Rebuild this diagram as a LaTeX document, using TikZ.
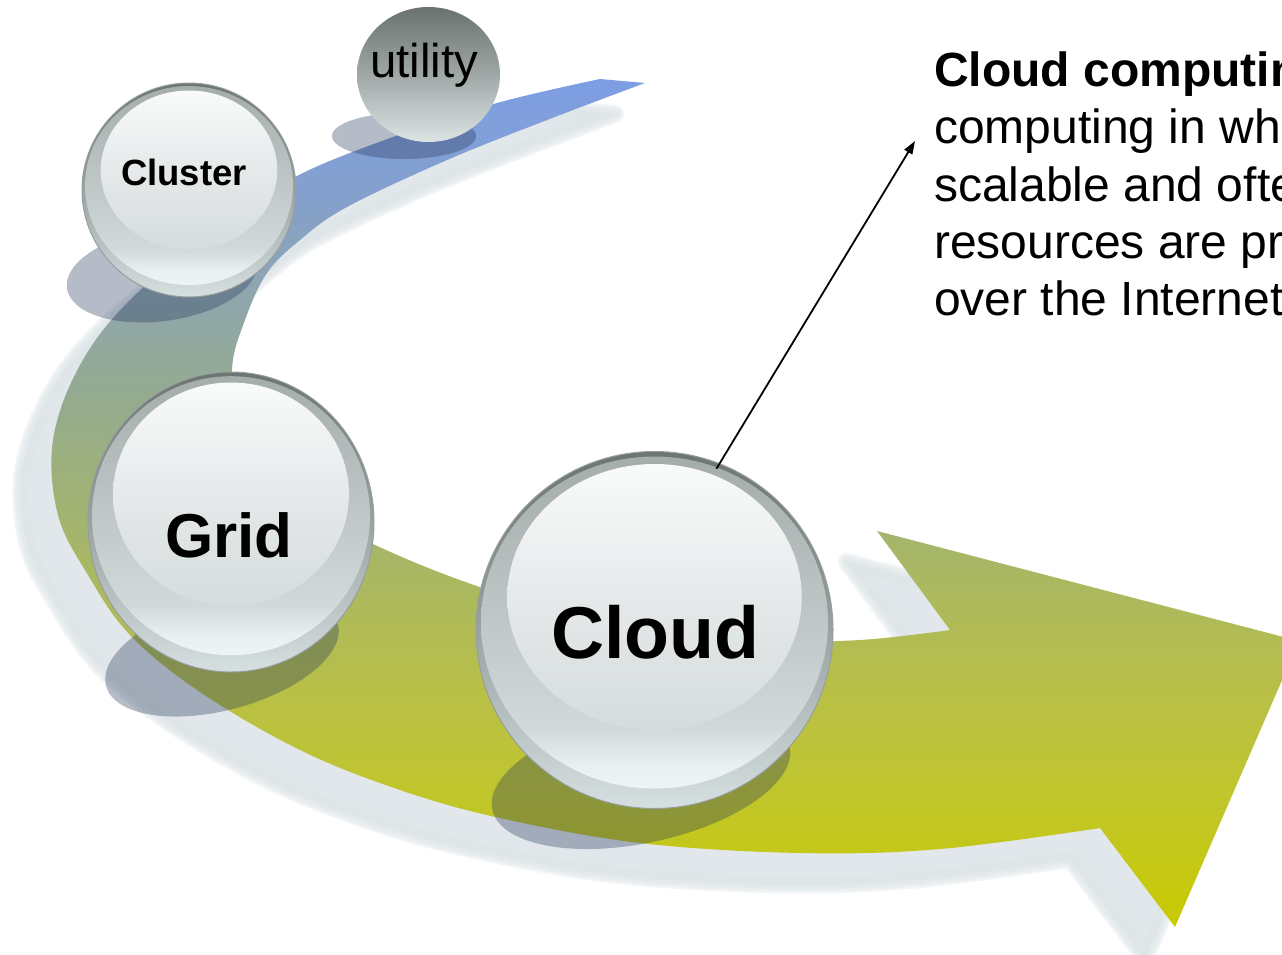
\documentclass[tikz,border=0pt]{standalone}
\usepackage{fontspec}
\setmainfont{Liberation Sans}
\usetikzlibrary{arrows.meta}

% band colours, top (blue) to bottom (yellow-green)
\definecolor{bandA}{RGB}{126,158,228}
\definecolor{bandB}{RGB}{132,160,204}
\definecolor{bandC}{RGB}{144,166,172}
\definecolor{bandD}{RGB}{148,171,142}
\definecolor{bandE}{RGB}{168,183,101}
\definecolor{bandF}{RGB}{185,192,69}
\definecolor{bandG}{RGB}{193,198,42}
\definecolor{bandH}{RGB}{200,202,0}
\definecolor{bandshadow}{RGB}{222,229,232}
\definecolor{dropshadow}{RGB}{38,55,90}

% glossy ball colours
\definecolor{rimT}{RGB}{109,117,115}
\definecolor{rimM}{RGB}{154,162,162}
\definecolor{rimB}{RGB}{214,224,225}
\definecolor{rimline}{RGB}{150,158,158}
\definecolor{ringT}{RGB}{164,172,172}
\definecolor{ringM}{RGB}{191,199,199}
\definecolor{ringL}{RGB}{210,217,218}
\definecolor{ringG}{RGB}{234,240,241}
\definecolor{ringB}{RGB}{238,243,244}
\definecolor{faceT}{RGB}{249,250,250}
\definecolor{faceM}{RGB}{226,230,231}
\definecolor{faceB}{RGB}{214,220,221}
\definecolor{utilT}{RGB}{106,114,112}
\definecolor{utilM}{RGB}{160,168,167}
\definecolor{utilB}{RGB}{220,228,228}

\pgfdeclareverticalshading{bandshade}{100bp}{%
  color(0bp)=(bandH); color(25bp)=(bandH); color(32.5bp)=(bandG);
  color(38.4bp)=(bandF); color(46.6bp)=(bandE); color(56.1bp)=(bandD);
  color(62bp)=(bandC); color(67.9bp)=(bandB); color(75bp)=(bandA);
  color(100bp)=(bandA)}
\pgfdeclareverticalshading{rimshade}{100bp}{%
  color(0bp)=(rimB); color(25bp)=(rimB); color(50bp)=(rimM);
  color(75bp)=(rimT); color(100bp)=(rimT)}
\pgfdeclareverticalshading{ringshade}{100bp}{%
  color(0bp)=(ringB); color(25bp)=(ringB); color(28.5bp)=(ringG);
  color(34bp)=(ringL); color(50bp)=(ringM); color(75bp)=(ringT);
  color(100bp)=(ringT)}
\pgfdeclareverticalshading{faceshade}{100bp}{%
  color(0bp)=(faceB); color(25bp)=(faceB); color(45bp)=(faceM);
  color(75bp)=(faceT); color(100bp)=(faceT)}
\pgfdeclareverticalshading{utilshade}{100bp}{%
  color(0bp)=(utilB); color(25bp)=(utilB); color(50bp)=(utilM);
  color(75bp)=(utilT); color(100bp)=(utilT)}

% glossy ball: centre (#1,#2), radii #3 and #4
\newcommand\glossball[4]{%
  \path[shading=rimshade] (#1,#2) ellipse [x radius=#3, y radius=#4];
  \path[shading=ringshade] (#1,{#2-0.042*#4}) ellipse [x radius={0.972*#3}, y radius={0.93*#4}];
  \path[shading=faceshade] (#1,{#2-0.185*#4}) ellipse [x radius={0.825*#3}, y radius={0.745*#4}];
  \draw[rimline, line width=1] (#1,#2) ellipse [x radius=#3, y radius=#4];
}

\begin{document}
\begin{tikzpicture}[x=1pt, y=-1pt,
  bandpath/.style={insert path={
    (600,79) -- (645,83)
    -- plot[smooth, tension=0.6] coordinates {(645,83) (547,120) (447,160) (347,207)
       (300,240) (267,273) (245,320) (232,370) (240,440) (285,500) (375,545) (460,580)
       (560,612) (660,632) (760,641) (860,640) (950,630)}
    -- (877,531) -- (1299,641) -- (1175,927) -- (1100,828)
    -- plot[smooth, tension=0.6] coordinates {(1100,828) (940,849) (800,853) (640,843)
       (500,818) (400,790) (300,750) (200,692) (130,635) (88,575) (58,515) (53,440)
       (80,365) (130,300) (215,230) (295,177) (393,137) (497,103) (600,79)}
    -- cycle}},
  softlayer/.style={shift={(-30,31)}, bandpath, fill=bandshadow, draw=bandshadow,
    line join=round, line width=#1, opacity=0.38},
  dropshade/.style={fill=dropshadow, fill opacity=0.34},
  balltext/.style={inner sep=0, text=black},
  connector/.style={line width=1.8, -{Triangle[length=13, width=9]}}]

\useasboundingbox (0,0) rectangle (1282,954);
\clip (0,0) rectangle (1282,954);

% soft shadow of the curved arrow, built from widening translucent layers
\foreach \w in {18,14,10,6,2}
  \path[softlayer=\w];
% the curved arrow
\path[bandpath, shading=bandshade];

% drop shadows of the balls
\path[dropshade] (404,136) ellipse [x radius=72, y radius=23];
\path[dropshade, rotate around={8:(162,275)}] (162,275) ellipse [x radius=96, y radius=46];
\path[dropshade, rotate around={15:(222,655)}] (222,655) ellipse [x radius=120, y radius=55];
\path[dropshade, rotate around={12:(641,778)}] (641,778) ellipse [x radius=152, y radius=65];

% utility ball
\path[shading=utilshade] (428.5,74.5) ellipse [x radius=71.5, y radius=67.5];
% glossy balls
\glossball{189}{190}{107}{107}
\glossball{231}{522}{143}{150}
\glossball{654.5}{630}{178.5}{178.5}

% labels
\node[balltext, anchor=base, font=\fontsize{47.4}{52}\selectfont] (utility) at (424,77) {utility};
\node[balltext, anchor=base, font=\bfseries\fontsize{36.5}{40}\selectfont] (cluster) at (184,185) {Cluster};
\node[balltext, anchor=base, font=\bfseries\fontsize{62}{68}\selectfont] (grid) at (229,557) {Grid};
\node[balltext, anchor=base, font=\bfseries\fontsize{73.5}{80}\selectfont] (cloudtext) at (655.5,658) {Cloud};
\node[circle, minimum size=345, inner sep=0] (cloud) at (654.5,630) {};

% description
\node[inner sep=0, anchor=north west, align=left, font=\fontsize{48}{57.3}\selectfont] (desc) at (934,51.5)
  {\textbf{Cloud computing}\\computing in which\\scalable and often\\resources are provided\\over the Internet};
\coordinate (tip) at (915,141);
\draw[connector] (cloud.69) -- (tip);
\end{tikzpicture}
\end{document}
